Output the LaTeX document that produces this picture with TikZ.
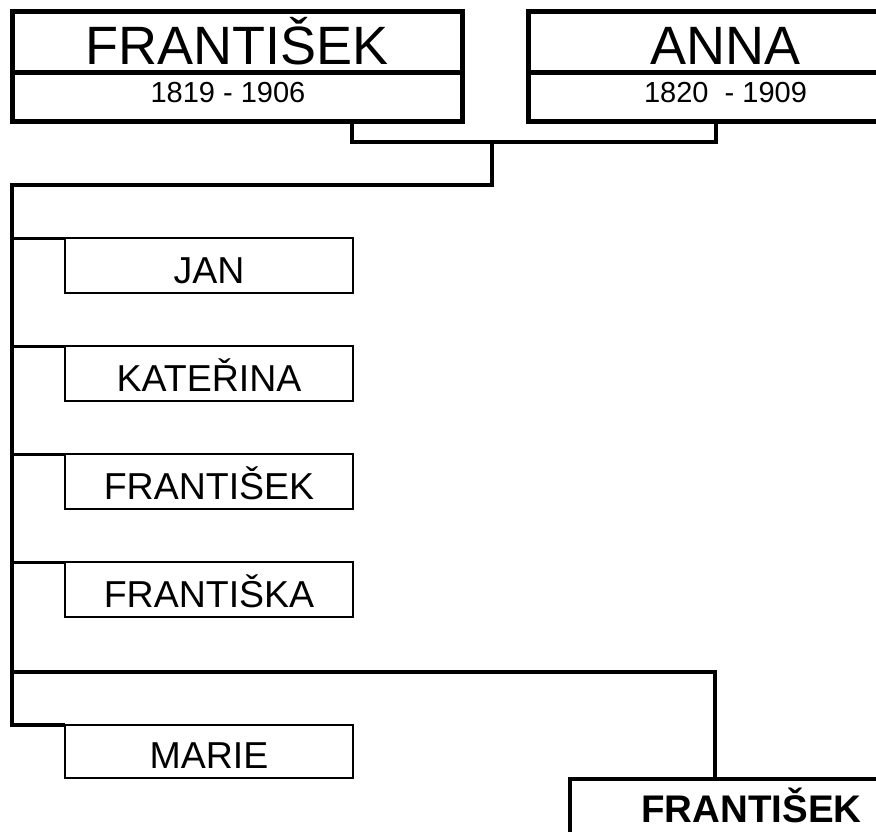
\documentclass[tikz,border=0pt]{standalone}
\usepackage{fontspec}
\setmainfont{Liberation Sans}
\begin{document}
\begin{tikzpicture}[x=1pt,y=-1pt,
  topbox/.style={draw, line width=5pt, inner sep=0pt, outer sep=0pt, anchor=north west, text depth=0pt},
  namepart/.style={topbox, minimum height=61pt, text height=45pt, font=\fontsize{54}{60}\selectfont},
  datepart/.style={topbox, minimum height=49pt, text height=11pt, font=\fontsize{29}{32}\selectfont},
  childbox/.style={draw, line width=2pt, inner sep=0pt, outer sep=0pt, anchor=north west,
    minimum width=288pt, minimum height=55pt, text height=35pt, text depth=0pt,
    font=\fontsize{37.5}{40}\selectfont},
  heirbox/.style={draw, line width=4pt, inner sep=0pt, outer sep=0pt, anchor=north west,
    minimum width=363pt, minimum height=81pt, text height=5pt, text depth=0pt,
    font=\bfseries\fontsize{38.5}{42}\selectfont},
  conn/.style={line width=4pt, line join=miter},
  branch/.style={line width=3pt}]
\fill[white] (0,0) rectangle (876,832);
\useasboundingbox (0,0) rectangle (876,832);

% parents
\node[namepart, minimum width=450pt] (fn) at (12,12) {FRANTIŠEK};
\node[datepart, minimum width=450pt] (fd) at (12,73) {1819 - 1906\hspace*{18pt}};
\node[namepart, minimum width=395pt] (an) at (528,12) {ANNA};
\node[datepart, minimum width=395pt] (ad) at (528,73) {1820\ \ - 1909};

% children
\node[childbox] (jan) at (65,238) {JAN};
\node[childbox] (kat) at (65,346) {KATEŘINA};
\node[childbox] (fra) at (65,454) {FRANTIŠEK};
\node[childbox] (frk) at (65,562) {FRANTIŠKA};
\node[childbox, minimum height=53pt, text height=33pt] (mar) at (65,725) {MARIE};

% heir
\node[heirbox] (heir) at (570,779) {FRANTIŠEK};

% connector coordinates
\coordinate (jA) at (352,142);
\coordinate (jB) at (716,142);
\coordinate (jM) at (492,142);
\coordinate (jT) at (492,185);
\coordinate (tTop) at (12,185);
\coordinate (kA) at (12,672);
\coordinate (kB) at (715,672);

\draw[conn] (fd.south -| jA) -- (jA) -- (jB) -- (ad.south -| jB);
\draw[conn] (jM) -- (jT) -- (tTop) -- (tTop |- mar.north west) -- (mar.north west);
\draw[branch] (tTop |- jan.north west) -- (jan.north west);
\draw[branch] (tTop |- kat.north west) -- (kat.north west);
\draw[branch] (tTop |- fra.north west) -- (fra.north west);
\draw[branch] (tTop |- frk.north west) -- (frk.north west);
\draw[conn] (kA) -- (kB) -- (heir.north -| kB);
\end{tikzpicture}
\end{document}
